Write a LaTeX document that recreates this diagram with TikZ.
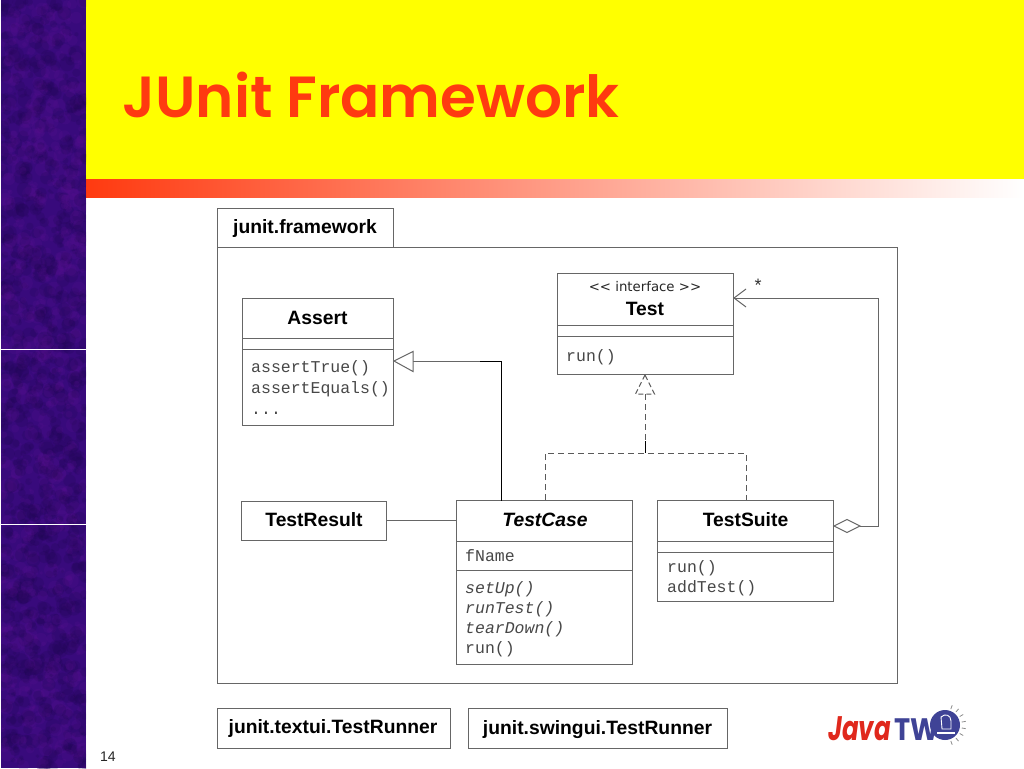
\documentclass[tikz,border=0pt]{standalone}
\usepackage{fontspec}
\setmainfont{Liberation Sans}
\setmonofont{Liberation Mono}
\newfontfamily\titlefont{Poppins SemiBold}
\newfontfamily\logofont{Poppins Bold}
\newfontfamily\ifacefont{DejaVu Sans}
\usetikzlibrary{arrows.meta,shapes.geometric}
\definecolor{bandyellow}{RGB}{255,255,0}
\definecolor{purplebase}{HTML}{380A7C}
\definecolor{purpledark}{HTML}{1E0650}
\definecolor{purplelight}{HTML}{5A1090}
\definecolor{titlered}{HTML}{FF3A10}
\definecolor{linegray}{HTML}{666666}
\definecolor{logored}{HTML}{E0281C}
\definecolor{logoblue}{HTML}{3F4396}
\tikzset{
  x=1pt,y=-1pt,
  box/.style={draw=linegray,line width=1pt,fill=white},
  rule/.style={draw=linegray,line width=1pt},
  conn/.style={draw=linegray,line width=1pt},
  darkconn/.style={draw=black,line width=0.9pt},
  dashconn/.style={draw=black!65,line width=1pt,dash pattern=on 6pt off 4pt},
  head/.style={font=\fontsize{19.3}{22}\selectfont\bfseries,inner sep=0pt,anchor=center},
  mono/.style={font=\fontsize{16.5}{20}\ttfamily,text=black!72,inner sep=0pt,anchor=base west},
  monoit/.style={mono,font=\fontsize{16.5}{20}\ttfamily\itshape},
  opentip/.style={draw=linegray,line width=1pt,fill=white},
}
\begin{document}
\begin{tikzpicture}
\useasboundingbox (0,0) rectangle (1024,768);
\fill[white] (0,0) rectangle (1024,768);
% title band
\fill[bandyellow] (86,0) rectangle (1024,179);
\shade[left color=titlered,right color=white,shading angle=90] (86,179) rectangle (1024,197);
% textured strip
\fill[purplebase] (1,0) rectangle (86,768);
\pgfmathsetseed{14}
\begin{scope}
\clip (1,0) rectangle (86,768);
\foreach \n in {1,...,1800}{
  \pgfmathsetmacro{\px}{1+85*rnd}
  \pgfmathsetmacro{\py}{768*rnd}
  \pgfmathsetmacro{\pr}{1.5+6*rnd}
  \pgfmathsetmacro{\pick}{rnd}
  \ifdim\pick pt<0.55pt
    \fill[purpledark,opacity=0.2] (\px,\py) circle (\pr);
  \else
    \fill[purplelight,opacity=0.2] (\px,\py) circle (\pr);
  \fi
}
\end{scope}
\fill[white] (0,349) rectangle (86,350);
\fill[white] (0,524) rectangle (86,525);
% title
\node[font=\fontsize{58}{60}\titlefont,text=titlered,inner sep=0pt,anchor=base west] (title) at (122,117) {JUnit Framework};
% package
\node[box,inner sep=0pt,minimum width=680pt,minimum height=436pt] (pkgframe) at (557,465.5) {};
\node[box,inner sep=0pt,minimum width=176pt,minimum height=39.5pt] (pkgtab) at (305.5,227.75) {};
\node[head] (pkglabel) at (305,228.5) {junit.framework};
% Assert
\node[box,inner sep=0pt,minimum width=151pt,minimum height=127pt] (assert) at (317.5,361.5) {};
\draw[rule] (242,338) -- (393,338);
\draw[rule] (242,349) -- (393,349);
\node[head] (assertname) at (317.5,318) {Assert};
\node[mono] (a1) at (251,372) {assertTrue()};
\node[mono] (a2) at (251,393) {assertEquals()};
\node[mono] (a3) at (251,414) {...};
% Test
\node[box,inner sep=0pt,minimum width=176pt,minimum height=101pt] (test) at (645,324) {};
\draw[rule] (557,325) -- (733,325);
\draw[rule] (557,336) -- (733,336);
\node[font=\fontsize{13.3}{16}\ifacefont,inner sep=0pt,text=black!85] (iface) at (645,287) {<< interface >>};
\node[head] (testname) at (645,309) {Test};
\node[mono] (t1) at (566,361) {run()};
% TestResult
\node[box,inner sep=0pt,minimum width=145pt,minimum height=39pt] (result) at (314,520.5) {};
\node[head] (resultname) at (314,520) {TestResult};
% TestCase
\node[box,inner sep=0pt,minimum width=176pt,minimum height=164pt] (case) at (544.5,582.5) {};
\draw[rule] (456,541) -- (632,541);
\draw[rule] (456,570) -- (632,570);
\node[head,font=\fontsize{19.3}{22}\selectfont\bfseries\itshape] (casename) at (545,520) {TestCase};
\node[mono] (c0) at (465,561) {fName};
\node[monoit] (c1) at (465,593) {setUp()};
\node[monoit] (c2) at (465,613) {runTest()};
\node[monoit] (c3) at (465,633) {tearDown()};
\node[mono] (c4) at (465,653.5) {run()};
% TestSuite
\node[box,inner sep=0pt,minimum width=176pt,minimum height=101pt] (suite) at (745.5,551) {};
\draw[rule] (657,541) -- (833,541);
\draw[rule] (657,552) -- (833,552);
\node[head] (suitename) at (745.5,520) {TestSuite};
\node[mono] (s1) at (667,572) {run()};
\node[mono] (s2) at (667,592) {addTest()};
% runners
\node[box,inner sep=0pt,minimum width=233pt,minimum height=40pt] (r1) at (333.5,728) {};
\node[head] (r1name) at (333,728) {junit.textui.TestRunner};
\node[box,inner sep=0pt,minimum width=259pt,minimum height=40pt] (r2) at (597.5,728) {};
\node[head] (r2name) at (597.5,729.5) {junit.swingui.TestRunner};
% connectors
\coordinate (genelbow) at (501,361);
\coordinate (casetop) at (501,500.5);
\coordinate (gentip) at (394,361);
\coordinate (genback) at (413,361);
\coordinate (gendark) at (480,361);
\draw[conn] (genback) -- (gendark);
\draw[darkconn] (gendark) -- (genelbow) -- (casetop);
\draw[opentip] (gentip) -- (413,351.5) -- (413,371.5) -- cycle;
\draw[conn] (result.east) -- (case.west |- result.east);
% realization
\coordinate (rtip) at (645,375);
\coordinate (rback) at (645,394);
\coordinate (rjoin) at (645,453);
\coordinate (rdark) at (645,441);
\coordinate (rl) at (545,453);
\coordinate (rr) at (746,453);
\coordinate (rlb) at (545,500);
\coordinate (rrb) at (746,500);
\draw[dashconn] (rback) -- (rdark);
\draw[darkconn] (rdark) -- (rjoin);
\draw[dashconn] (rlb) -- (rl) -- (rr) -- (rrb);
\draw[draw=black!65,line width=1pt,dash pattern=on 5pt off 3pt] (rtip) -- (635.5,394) -- (654.5,394) -- cycle;
% aggregation
\coordinate (dtip) at (834,526);
\coordinate (dleft) at (860,526);
\coordinate (aggr) at (878,526);
\coordinate (aggt) at (878,298);
\coordinate (ttip) at (734,298);
\draw[conn] (dleft) -- (aggr) -- (aggt) -- (ttip);
\draw[opentip] (dtip) -- (847,519.5) -- (dleft) -- (847,532.5) -- cycle;
\draw[conn] (746,289) -- (ttip) -- (746,307);
\node[font=\fontsize{18}{20}\selectfont,inner sep=0pt,text=black!80] (star) at (758,285) {*};
% page number
\node[font=\fontsize{14}{16}\selectfont,inner sep=0pt,anchor=west,text=black!85] (pageno) at (100,757) {14};
% logo
\foreach \a in {-70,-50,...,70}{
  \draw[black!45,line width=0.8pt] (945,725) ++(\a:17) -- ++(\a:4);
}
\fill[logoblue] (945,725) circle (15);
\node[font=\fontsize{31}{32}\logofont,text=logoblue,inner sep=0pt,anchor=base west,xscale=0.88] (logob) at (894,740) {TW};
\node[font=\fontsize{34}{34}\logofont\itshape,text=logored,inner sep=0pt,anchor=base west,xscale=0.72] (logoa) at (828,740.5) {Java};
\draw[white,line width=0.9pt] (941,717) .. controls (945,713) and (951,715) .. (951,721) -- (951,729) -- (942,729) -- cycle;
\draw[white,line width=1.1pt] (937,733) -- (955,733);
\end{tikzpicture}
\end{document}
